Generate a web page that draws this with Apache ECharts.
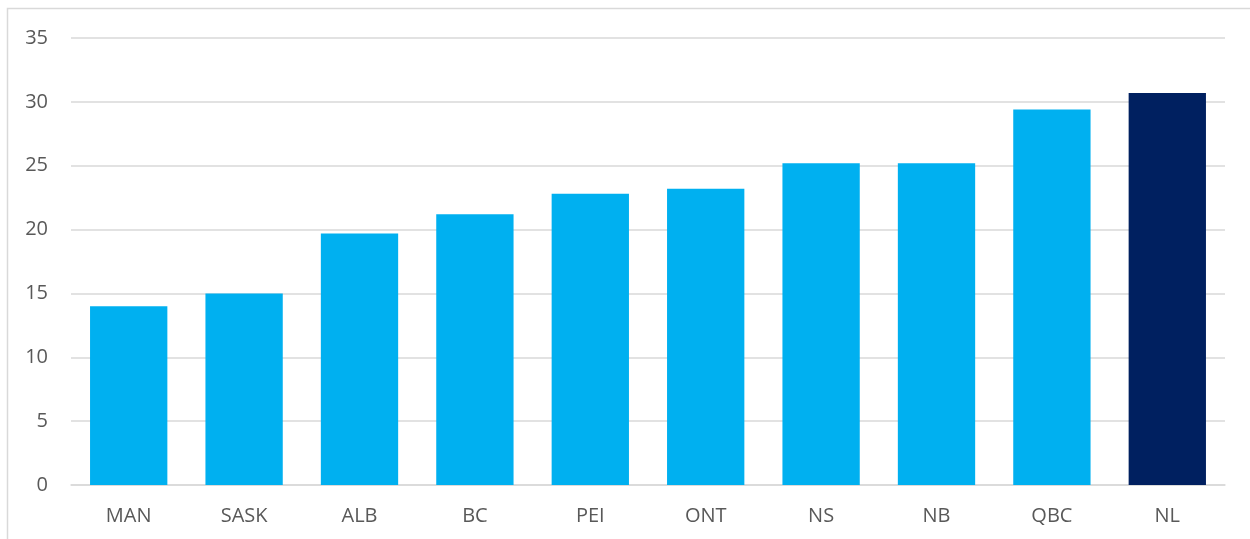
<!DOCTYPE html>
<html>
<head>
<meta charset="utf-8">
<script src="https://cdn.jsdelivr.net/npm/echarts@6/dist/echarts.min.js"></script>
<style>
  html, body { margin: 0; padding: 0; background: #fff; }
  #chart { width: 1250px; height: 539px; }
</style>
</head>
<body>
<div id="chart"></div>
<script>
const provinces = ['MAN', 'SASK', 'ALB', 'BC', 'PEI', 'ONT', 'NS', 'NB', 'QBC', 'NL']
const values = [14.0, 15.0, 19.7, 21.2, 22.8, 23.2, 25.2, 25.2, 29.4, 30.7]
const highlight = 'NL'

const chart = echarts.init(document.getElementById('chart'))
chart.setOption({
  animation: false,
  textStyle: { fontFamily: 'Open Sans', color: '#595959' },
  graphic: [{
    type: 'rect',
    shape: { x: 7.5, y: 8.5, width: 1300, height: 600 },
    style: { fill: 'none', stroke: '#d9d9d9', lineWidth: 1.5 },
    silent: true
  }],
  grid: { left: 71, right: 25, top: 38, bottom: 54 },
  xAxis: {
    type: 'category',
    data: provinces,
    axisLine: { lineStyle: { color: '#d9d9d9', width: 1.5 } },
    axisTick: { show: false },
    axisLabel: { color: '#595959', fontSize: 20, margin: 21 }
  },
  yAxis: {
    type: 'value',
    min: 0,
    max: 35,
    interval: 5,
    axisLine: { show: false },
    axisTick: { show: false },
    axisLabel: { color: '#595959', fontSize: 20, margin: 23 },
    splitLine: { lineStyle: { color: '#d9d9d9', width: 1.5 } }
  },
  series: [{
    type: 'bar',
    barCategoryGap: '33%',
    data: values.map((v, i) => ({
      value: v,
      itemStyle: { color: provinces[i] === highlight ? '#002060' : '#00b0f0' }
    }))
  }]
})
</script>
</body>
</html>
